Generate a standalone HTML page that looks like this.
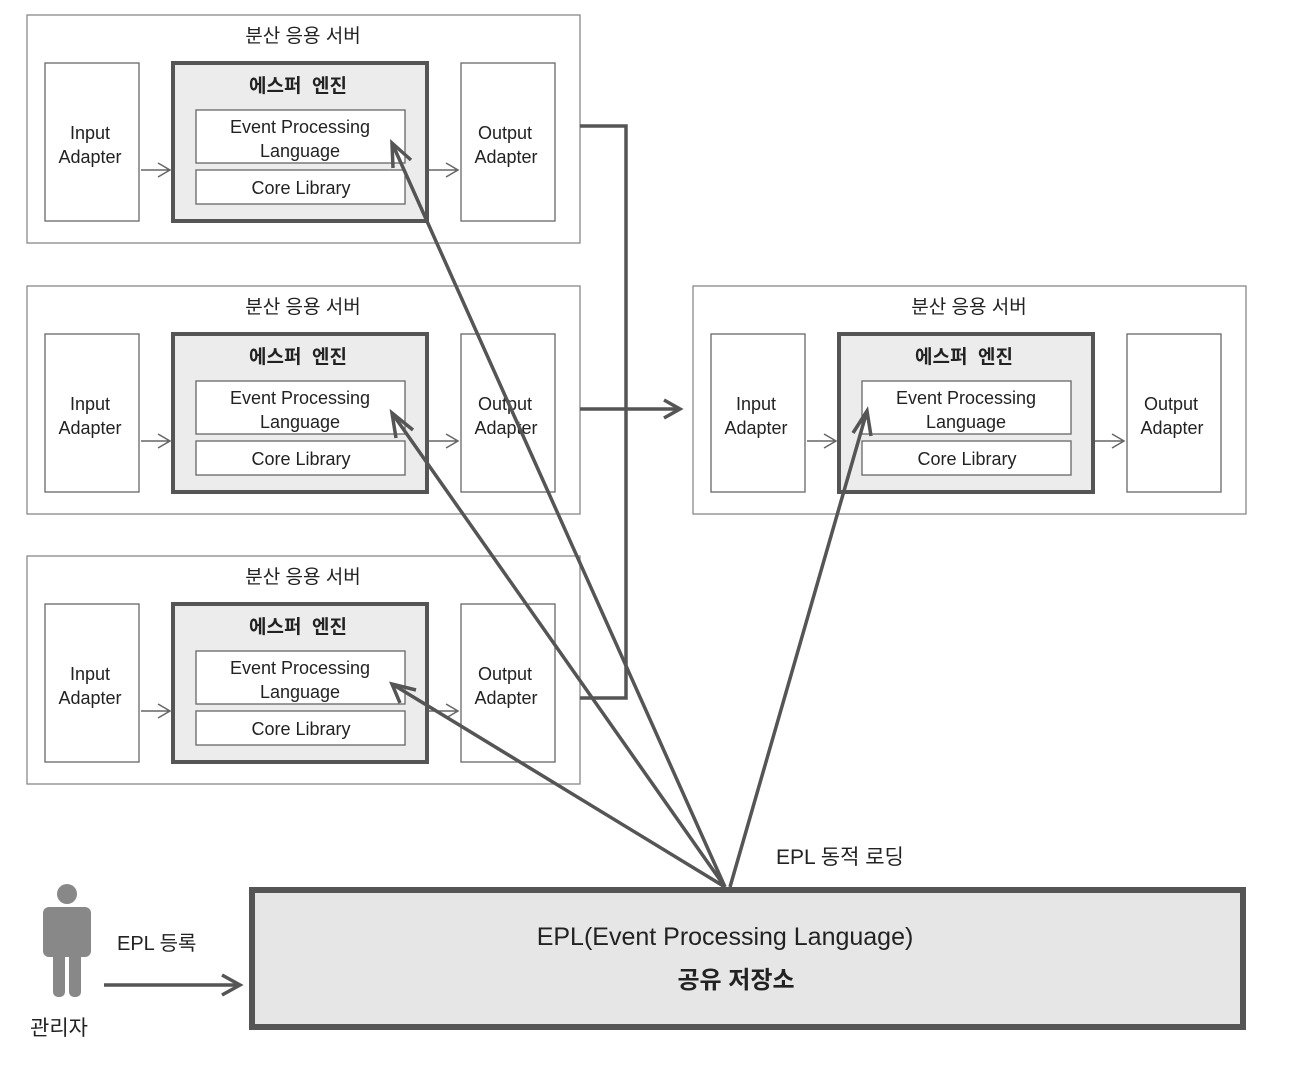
<!DOCTYPE html>
<html><head><meta charset="utf-8"><style>
body{margin:0;background:#fff}
text{font-family:"Liberation Sans","Noto Sans CJK KR",sans-serif;fill:#222}
</style></head><body>
<svg width="1306" height="1068" viewBox="0 0 1306 1068" xmlns="http://www.w3.org/2000/svg">
<defs>
<g id="srv">
<rect x="0" y="0" width="553" height="228" fill="#fff" stroke="#888" stroke-width="1.3"/>
<text x="276" y="27" font-size="19" text-anchor="middle" fill="#333">분산 응용 서버</text>
<rect x="18" y="48" width="94" height="158" fill="#fff" stroke="#666" stroke-width="1.3"/>
<text x="63" y="124" font-size="18" text-anchor="middle">Input</text>
<text x="63" y="148" font-size="18" text-anchor="middle">Adapter</text>
<rect x="146" y="48" width="254" height="158" fill="#ececec" stroke="#555" stroke-width="4"/>
<text x="271" y="77" font-size="19" font-weight="bold" text-anchor="middle">에스퍼 &#160;엔진</text>
<rect x="169" y="95" width="209" height="53" fill="#fff" stroke="#666" stroke-width="1.3"/>
<text x="273" y="118" font-size="18" text-anchor="middle">Event Processing</text>
<text x="273" y="142" font-size="18" text-anchor="middle">Language</text>
<rect x="169" y="155" width="209" height="34" fill="#fff" stroke="#666" stroke-width="1.3"/>
<text x="274" y="179" font-size="18" text-anchor="middle">Core Library</text>
<rect x="434" y="48" width="94" height="158" fill="#fff" stroke="#666" stroke-width="1.3"/>
<text x="478" y="124" font-size="18" text-anchor="middle">Output</text>
<text x="479" y="148" font-size="18" text-anchor="middle">Adapter</text>
<path d="M114 155 H143 M131 148 L143 155 L131 162" fill="none" stroke="#666" stroke-width="1.5"/>
<path d="M402 155 H431 M419 148 L431 155 L419 162" fill="none" stroke="#666" stroke-width="1.5"/>
</g>
</defs>
<use href="#srv" x="27" y="15"/>
<use href="#srv" x="27" y="286"/>
<use href="#srv" x="27" y="556"/>
<use href="#srv" x="693" y="286"/>
<g fill="none" stroke="#555" stroke-width="3.5">
<path d="M580 126 H626 V698 H580"/>
<path d="M580 409 H680"/>
<path d="M664 400 L680 409 L664 418"/>
<path d="M104 985 H238"/>
<path d="M222 975 L240 985 L222 995"/>
<path d="M725 887 L392 143 M725 887 L392 413 M725 887 L392 684 M730 887 L867 411"/>
<path d="M393 168 L392 143 L411 160"/>
<path d="M396 438 L392 413 L413 430"/>
<path d="M400 703 L392 684 L416 690"/>
<path d="M853 433 L867 411 L871 436"/>
</g>
<rect x="252" y="890" width="991" height="137" fill="#e6e6e6" stroke="#555" stroke-width="6"/>
<text x="725" y="945" font-size="25" text-anchor="middle">EPL(Event Processing Language)</text>
<text x="736" y="988" font-size="24" font-weight="bold" text-anchor="middle">공유 저장소</text>
<text x="776" y="864" font-size="21">EPL 동적 로딩</text>
<text x="117" y="950" font-size="20">EPL 등록</text>
<text x="30" y="1035" font-size="21">관리자</text>
<g fill="#888">
<circle cx="67" cy="894" r="10"/>
<rect x="43" y="907" width="48" height="50" rx="6"/>
<rect x="53" y="940" width="12" height="57" rx="5"/>
<rect x="69" y="940" width="12" height="57" rx="5"/>
</g>
</svg>
</body></html>
